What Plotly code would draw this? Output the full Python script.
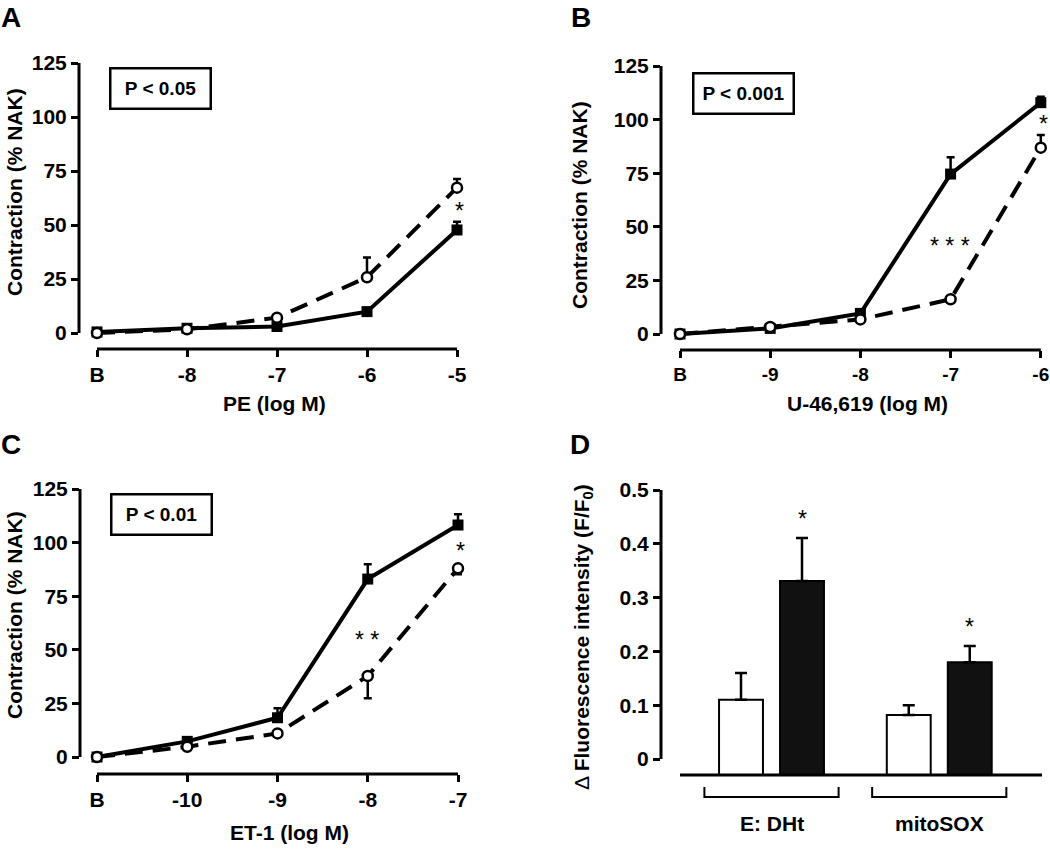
import plotly.graph_objects as go

W, H = 1050, 849

# ---------------- data ----------------
# Panel A : PE
A_ticks = ["B", "-8", "-7", "-6", "-5"]
A_filled = [0.5, 2.2, 3.0, 9.9, 47.7]
A_filled_err_up = [0, 0, 0, 0, 3.8]
A_open = [0.0, 1.7, 7.1, 25.8, 67.3]
A_open_err_up = [0, 0, 0, 9.2, 4.0]

# Panel B : U-46,619
B_ticks = ["B", "-9", "-8", "-7", "-6"]
B_filled = [0.0, 2.6, 9.6, 74.6, 107.9]
B_filled_err_up = [0, 0, 0, 7.8, 2.8]
B_open = [0.0, 3.3, 6.8, 16.2, 86.9]
B_open_err_up = [0, 0, 0, 0, 5.9]

# Panel C : ET-1
C_ticks = ["B", "-10", "-9", "-8", "-7"]
C_filled = [0.0, 7.3, 18.3, 83.0, 108.2]
C_filled_err_up = [0, 0, 4.4, 6.9, 5.0]
C_open = [0.0, 4.8, 11.0, 37.8, 88.0]
C_open_err_down = [0, 0, 0, 10.4, 2.8]

# Panel D : fluorescence
D_groups = ["E: DHt", "mitoSOX"]
D_open = [0.11, 0.082]
D_open_err = [0.05, 0.018]
D_filled = [0.331, 0.18]
D_filled_err = [0.08, 0.03]

y_ticks_line = [0, 25, 50, 75, 100, 125]
y_ticks_bar = [0, 0.1, 0.2, 0.3, 0.4, 0.5]
y_ticktext_bar = ["0", "0.1", "0.2", "0.3", "0.4", "0.5"]

# ---------------- layout helpers ----------------
def px_x(px):
    return px / W


def px_y(py):
    return 1 - py / H


FAM = "Liberation Sans, Arial, Helvetica, sans-serif"
TICKF = dict(family=FAM, size=21, color="black", weight="bold")
TICKF_EDGE = dict(family=FAM, size=19, color="black", weight="bold")
TITLEF = dict(family=FAM, size=21, color="black")

# pixel geometry of each line panel
panels = {
    "A": dict(xl=79, x0=97, xstep=90.0, xr=466, ytop=63, y0=333, yb=349, xfont=TICKF),
    "B": dict(xl=661, x0=680, xstep=90.2, xr=1049, ytop=66, y0=334, yb=350, xfont=TICKF_EDGE),
    "C": dict(xl=80, x0=97, xstep=90.25, xr=467, ytop=489, y0=757, yb=774, xfont=TICKF),
}

fig = go.Figure()
layout = dict(
    template="none",
    width=W, height=H, margin=dict(l=0, r=0, t=0, b=0, autoexpand=False),
    paper_bgcolor="white", plot_bgcolor="white", showlegend=False,
)
shapes = []
annotations = []

axis_ids = {"A": ("x", "y"), "B": ("x2", "y2"), "C": ("x3", "y3"), "D": ("x4", "y4")}


def add_line_panel(key, ticks, filled, f_up, f_dn, opn, o_up, o_dn):
    g = panels[key]
    xa, ya = axis_ids[key]
    ppu = (g["y0"] - g["ytop"]) / 125.0
    xr = [(g["xl"] - g["x0"]) / g["xstep"], (g["xr"] - g["x0"]) / g["xstep"]]
    yr = [-(g["yb"] - g["y0"]) / ppu, 125]
    xn = "xaxis" + xa[1:]
    yn = "yaxis" + ya[1:]
    layout[xn] = dict(
        domain=[px_x(g["xl"]), px_x(g["xr"])], range=xr, anchor=ya, automargin=False,
        tickmode="array", tickvals=list(range(len(ticks))), ticktext=ticks,
        ticks="outside", ticklen=7, tickwidth=2.5, tickcolor="black",
        showgrid=False, zeroline=False, showline=False, tickfont=g["xfont"],
    )
    layout[yn] = dict(
        domain=[px_y(g["yb"]), px_y(g["ytop"])], range=yr, anchor=xa, automargin=False,
        tickmode="array", tickvals=y_ticks_line,
        ticks="outside", ticklen=7, tickwidth=2.5, tickcolor="black",
        showgrid=False, zeroline=False, showline=False, tickfont=TICKF,
    )
    # detached axis lines
    shapes.append(dict(type="line", xref=xa + " domain", yref=ya, x0=0, x1=0, y0=0, y1=125,
                       line=dict(color="black", width=3)))
    shapes.append(dict(type="line", xref=xa, yref=ya + " domain", x0=0, x1=len(ticks) - 1,
                       y0=0, y1=0, line=dict(color="black", width=3)))
    xs = list(range(len(ticks)))

    # error bars (only where present), drawn under the markers
    for vals, up, dn in ((filled, f_up, f_dn), (opn, o_up, o_dn)):
        idx = [i for i in xs if up[i] > 0 or dn[i] > 0]
        if idx:
            fig.add_trace(go.Scatter(
                x=[xs[i] for i in idx], y=[vals[i] for i in idx], mode="markers",
                marker=dict(size=1, color="rgba(0,0,0,0)"), xaxis=xa, yaxis=ya,
                error_y=dict(type="data", symmetric=False,
                             array=[up[i] for i in idx], arrayminus=[dn[i] for i in idx],
                             color="black", thickness=2.5, width=4),
                cliponaxis=False, hoverinfo="skip"))
    fig.add_trace(go.Scatter(
        x=xs, y=filled, mode="lines+markers", xaxis=xa, yaxis=ya,
        line=dict(color="black", width=4),
        marker=dict(symbol="square", size=11, color="black"), cliponaxis=False))
    fig.add_trace(go.Scatter(
        x=xs, y=opn, mode="lines+markers", xaxis=xa, yaxis=ya,
        line=dict(color="black", width=4, dash="18px,10px"),
        marker=dict(symbol="circle", size=10, color="white",
                    line=dict(color="black", width=2.5)), cliponaxis=False))


zeros = [0, 0, 0, 0, 0]
add_line_panel("A", A_ticks, A_filled, A_filled_err_up, zeros, A_open, A_open_err_up, zeros)
add_line_panel("B", B_ticks, B_filled, B_filled_err_up, zeros, B_open, B_open_err_up, zeros)
add_line_panel("C", C_ticks, C_filled, C_filled_err_up, zeros, C_open, zeros, C_open_err_down)

# ---------------- panel D ----------------
D_xl, D_ytop, D_y0, D_yb = 661, 490, 759, 775
D_unit = 61.0        # px per x unit, first bar centred on 0 at px 741
D_x0px = 741
D_group_gap = 2.75
D_ppu = (D_y0 - D_ytop) / 0.5
D_base = -(D_yb - D_y0) / D_ppu
layout["xaxis4"] = dict(
    domain=[px_x(D_xl), px_x(1047)], range=[(D_xl - D_x0px) / D_unit, (1047 - D_x0px) / D_unit],
    anchor="y4", showticklabels=False, ticks="", showgrid=False, zeroline=False,
    showline=False, automargin=False)
layout["yaxis4"] = dict(
    domain=[px_y(D_yb), px_y(D_ytop)], range=[D_base, 0.5], anchor="x4", automargin=False,
    tickmode="array", tickvals=y_ticks_bar, ticktext=y_ticktext_bar,
    ticks="outside", ticklen=7, tickwidth=2.5, tickcolor="black",
    showgrid=False, zeroline=False, showline=False, tickfont=TICKF)

gx = [g * D_group_gap for g in range(len(D_groups))]
x_open = [c for c in gx]
x_fill = [c + 1 for c in gx]
fig.add_trace(go.Bar(x=x_open, y=[v - D_base for v in D_open], base=D_base, width=0.72,
                     marker=dict(color="white", line=dict(color="black", width=2)),
                     xaxis="x4", yaxis="y4"))
fig.add_trace(go.Bar(x=x_fill, y=[v - D_base for v in D_filled], base=D_base, width=0.72,
                     marker=dict(color="#111111", line=dict(color="black", width=2)),
                     xaxis="x4", yaxis="y4"))
fig.add_trace(go.Scatter(
    x=x_open + x_fill, y=D_open + D_filled, mode="markers",
    marker=dict(size=1, color="rgba(0,0,0,0)"), xaxis="x4", yaxis="y4",
    error_y=dict(type="data", symmetric=False, array=D_open_err + D_filled_err,
                 arrayminus=[0, 0, 0, 0], color="black", thickness=2.5, width=6),
    cliponaxis=False, hoverinfo="skip"))
layout["barmode"] = "overlay"

shapes.append(dict(type="line", xref="x4 domain", yref="y4", x0=0, x1=0, y0=0, y1=0.5,
                   line=dict(color="black", width=3)))
shapes.append(dict(type="line", xref="x4", yref="y4 domain",
                   x0=(680 - D_x0px) / D_unit, x1=(1042 - D_x0px) / D_unit, y0=0, y1=0,
                   line=dict(color="black", width=3)))
# group brackets + labels
for gi, name in enumerate(D_groups):
    c = gx[gi] + 0.5
    half = 1.1
    yb_br = px_y(797)
    yb_tk = px_y(787)
    shapes.append(dict(type="path", xref="x4", yref="paper",
                       path=f"M {c-half},{yb_tk} L {c-half},{yb_br} L {c+half},{yb_br} L {c+half},{yb_tk}",
                       line=dict(color="black", width=2)))
    annotations.append(dict(text="<b>" + name + "</b>", xref="x4", yref="paper", x=c, y=px_y(823),
                            showarrow=False, font=TITLEF, xanchor="center", yanchor="middle"))

AST = dict(family=FAM, size=23, color="black")
# asterisks in D
for xv, v, e in zip(x_fill, D_filled, D_filled_err):
    annotations.append(dict(text="*", xref="x4", yref="y4", x=xv, y=v + e + 0.036,
                            showarrow=False, font=AST, yanchor="middle"))

# ---------------- text annotations ----------------
def ann_px(text, x, y, font, angle=0, **kw):
    annotations.append(dict(text=text, xref="paper", yref="paper", x=px_x(x), y=px_y(y),
                            showarrow=False, font=font, textangle=angle,
                            xanchor="center", yanchor="middle", **kw))


LET = dict(family=FAM, size=28, color="black")
ann_px("<b>A</b>", 11, 17, LET)
ann_px("<b>B</b>", 581, 17, LET)
ann_px("<b>C</b>", 11, 445, LET)
ann_px("<b>D</b>", 580, 444, LET)

ann_px("<b>PE (log M)</b>", 274, 403, TITLEF)
ann_px("<b>U-46,619 (log M)</b>", 867, 403, TITLEF)
ann_px("<b>ET-1 (log M)</b>", 289, 832, TITLEF)
ann_px("<b>Contraction (% NAK)</b>", 14, 192, TITLEF, angle=-90)
ann_px("<b>Contraction (% NAK)</b>", 580, 205, TITLEF, angle=-90)
ann_px("<b>Contraction (% NAK)</b>", 14, 615, TITLEF, angle=-90)
ann_px("Δ <b>Fluorescence intensity (F/F<sub>0</sub>)</b>", 583, 637, TITLEF, angle=-90)

BOXF = dict(family=FAM, size=19, color="black")
for txt, cx, cy in (("P < 0.05", 160.5, 89), ("P < 0.001", 743, 93.5), ("P < 0.01", 161.5, 514)):
    ann_px("<b>" + txt + "</b>", cx, cy, BOXF, bordercolor="black", borderwidth=2.5,
           borderpad=2, width=94, height=34, bgcolor="white")

ann_px("*", 459, 211, AST)
ann_px("*", 1043, 124, AST)
ann_px("* * *", 950, 246, AST)
ann_px("*", 461, 551, AST)
ann_px("* *", 367, 640, AST)

layout["shapes"] = shapes
layout["annotations"] = annotations
fig.update_layout(**layout)
fig.update_traces(hoverinfo="skip")

fig.write_html("out.html", config={"displayModeBar": False},
               post_script="document.body.style.margin='0';document.body.style.overflow='hidden';")
